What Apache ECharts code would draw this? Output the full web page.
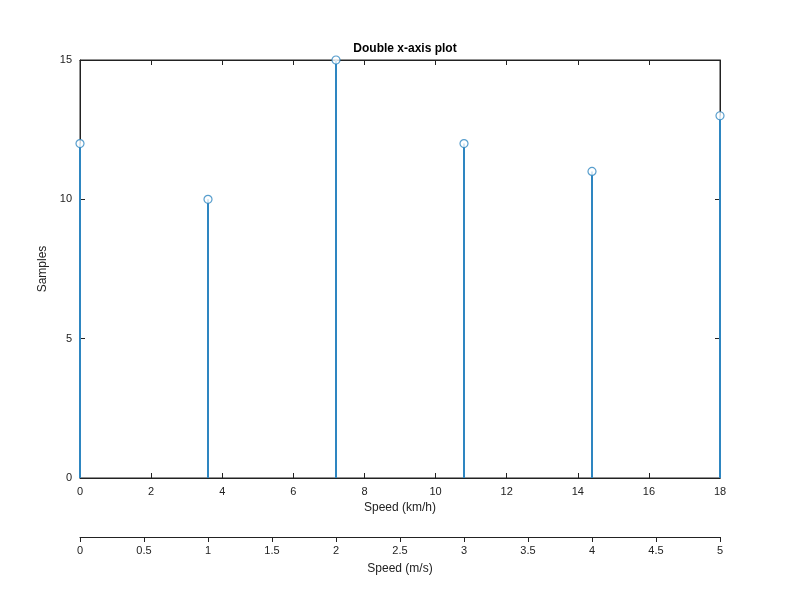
<!DOCTYPE html>
<html>
<head>
<meta charset="utf-8">
<script src="https://cdn.jsdelivr.net/npm/echarts@6/dist/echarts.min.js"></script>
<style>html,body{margin:0;background:#fff}#c{width:800px;height:599px}</style>
</head>
<body>
<div id="c"></div>
<script>
var speedKmh = [0, 3.6, 7.2, 10.8, 14.4, 18];
var samples = [12, 10, 15, 12, 11, 13];
var stemColor = '#2e86c1';
var font = 'Liberation Sans';

var pts = speedKmh.map(function(x, i) { return [x, samples[i]]; });
var chart = echarts.init(document.getElementById('c'));
var labelStyle = { color: '#222', fontSize: 11, fontFamily: font };
var line = { show: true, onZero: false, lineStyle: { color: '#222', width: 1 } };
var tickIn = { show: true, inside: true, length: 5, lineStyle: { color: '#222' } };
chart.setOption({
	animation: false,
	title: { text: 'Double x-axis plot', left: 400, top: 38, textAlign: 'center',
		textStyle: { fontSize: 12, fontWeight: 'bold', color: '#000', fontFamily: font } },
	grid: [
		{ left: 80, top: 60, width: 640, height: 418, show: true, borderColor: '#222', borderWidth: 1 },
		{ left: 80, top: 537, width: 640, height: 0, show: false }
	],
	xAxis: [
		{ gridIndex: 0, type: 'value', min: 0, max: 18, interval: 2, position: 'bottom',
		  axisLine: line, axisTick: tickIn,
		  axisLabel: labelStyle, splitLine: { show: false },
		  name: 'Speed (km/h)', nameLocation: 'middle', nameGap: 19,
		  nameTextStyle: { fontSize: 12, color: '#222', fontFamily: font } },
		{ gridIndex: 0, type: 'value', min: 0, max: 18, interval: 2, position: 'top',
		  axisLine: line, axisTick: tickIn,
		  axisLabel: { show: false }, splitLine: { show: false } },
		{ gridIndex: 1, type: 'value', min: 0, max: 5, interval: 0.5, position: 'bottom',
		  axisLine: line, axisTick: { inside: false, length: 5, lineStyle: { color: '#222' } },
		  axisLabel: labelStyle, splitLine: { show: false },
		  name: 'Speed (m/s)', nameLocation: 'middle', nameGap: 26,
		  nameTextStyle: { fontSize: 12, color: '#222', fontFamily: font } }
	],
	yAxis: [
		{ gridIndex: 0, type: 'value', min: 0, max: 15, interval: 5, position: 'left',
		  axisLine: line, axisTick: tickIn,
		  axisLabel: labelStyle, splitLine: { show: false },
		  name: 'Samples', nameLocation: 'middle', nameGap: 28,
		  nameTextStyle: { fontSize: 12, color: '#222', fontFamily: font } },
		{ gridIndex: 0, type: 'value', min: 0, max: 15, interval: 5, position: 'right',
		  axisLine: line, axisTick: tickIn,
		  axisLabel: { show: false }, splitLine: { show: false } },
		{ gridIndex: 1, type: 'value', min: 0, max: 1, show: false }
	],
	series: [
		{ type: 'bar', xAxisIndex: 0, yAxisIndex: 0, data: pts, barWidth: 2,
		  itemStyle: { color: stemColor } },
		{ type: 'scatter', xAxisIndex: 0, yAxisIndex: 0, data: pts, symbol: 'circle', symbolSize: 8,
		  itemStyle: { color: '#fff', borderColor: stemColor, borderWidth: 1.2 }, z: 5 },
		{ type: 'scatter', xAxisIndex: 1, yAxisIndex: 1, data: [] },
		{ type: 'scatter', xAxisIndex: 2, yAxisIndex: 2, data: [] }
	]
});
</script>
</body>
</html>
